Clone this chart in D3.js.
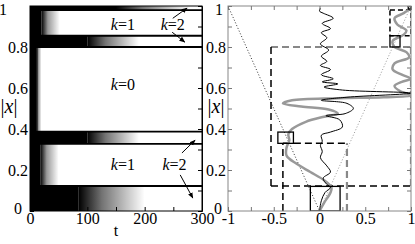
<!DOCTYPE html>
<html>
<head>
<meta charset="utf-8">
<script src="https://cdn.jsdelivr.net/npm/d3@7"></script>
<style>
body { margin: 0; background: #fff; }
svg text { font-family: "Liberation Serif", "Times New Roman", serif !important; font-size: 16px; }
</style>
</head>
<body>
<svg id="chart" width="415" height="244" font-family="Liberation Serif, serif"></svg>
<script>
// left panel: |x| bands over time t
var tTicks = [0, 100, 200, 300];
var yTicks = [0, 0.2, 0.4, 0.6, 0.8, 1];
var bandLo = [0.98, 0.80, 0.327, 0.0];
var bandHi = [1.0, 0.855, 0.387, 0.122];
var bandSolidEnd = [150, 100, 100, 85];
var bandFadeEnd = [280, 190, 190, 200];
var attractorLevels = [0.98, 0.855, 0.80, 0.387, 0.327, 0.122];
// white windows: solid transient edge and where the scatter ends
var winLo = [0.855, 0.387, 0.122];
var winHi = [0.98, 0.80, 0.327];
var winEdge = [20, 12, 18];
var winReach = [52, 20, 50];
var kLabels = [
  {t: 162, y: 0.905, k: "1"}, {t: 249, y: 0.905, k: "2"},
  {t: 162, y: 0.615, k: "0"},
  {t: 162, y: 0.222, k: "1"}, {t: 252, y: 0.222, k: "2"}
];
var arrows = [
  [[249, 0.94], [274, 0.99]], [[248, 0.872], [270, 0.824]],
  [[265, 0.283], [288, 0.346]], [[262, 0.176], [284, 0.063]]
];

// right panel: curves against x
var xTicks = [-1, -0.5, 0, 0.5, 1];
var grayCurve = [[0,0],[0.05,0.04],[0.12,0.09],[0.13,0.115],[0.05,0.15],[-0.1,0.19],[-0.25,0.23],
  [-0.36,0.27],[-0.36,0.31],[-0.33,0.345],[-0.34,0.375],[-0.3,0.4],[-0.15,0.435],[0.05,0.46],
  [0.2,0.475],[0.1,0.495],[-0.2,0.51],[-0.4,0.525],[-0.3,0.54],[0.2,0.55],[0.7,0.555],[1.0,0.565],
  [0.88,0.585],[0.82,0.61],[0.9,0.63],[1.0,0.645],[0.9,0.665],[0.8,0.69],[0.82,0.72],[0.98,0.75],
  [0.95,0.775],[0.82,0.8],[0.8,0.83],[0.92,0.86],[0.95,0.88],[0.85,0.91],[0.82,0.94],[0.92,0.965],[1.0,0.99]];
var blackCurve = [[0.01,0.99],[0.0,0.975],[0.04,0.965],[0.15,0.94],[0.03,0.915],[0.12,0.89],[0.02,0.87],
  [0.08,0.845],[0.01,0.815],[0.1,0.785],[0.02,0.755],[0.08,0.73],[0.01,0.71],[0.12,0.69],[0.02,0.665],
  [0.15,0.645],[0.03,0.63],[0.2,0.62],[0.05,0.605],[0.25,0.59],[1.0,0.575],
  [0.3,0.555],[0.02,0.54],[0.3,0.525],[0.37,0.5],[0.28,0.475],[0.07,0.465],[0.22,0.445],[0.25,0.41],
  [0.12,0.385],[0.02,0.37],[0.03,0.34],[0.01,0.32],[0.03,0.29],[0.01,0.26],[0.08,0.22],[0.12,0.19],
  [0.04,0.16],[0.08,0.13],[0.12,0.115],[0.06,0.09],[0.02,0.05],[0.0,0.0]];
var bigBox = [-0.53, 1.0, 0.122, 0.80];
var midBox = [-0.40, 0.30, 0.0, 0.33];
var solidBoxes = [[-0.455,-0.285,0.33,0.385],[-0.10,0.225,0,0.12],[0.77,0.88,0.80,0.855],[0.97,1.0,0.985,1.0]];
var dashBox = [0.77, 1.0, 0.855, 0.98];

var svg = d3.select("#chart");
svg.append("rect").attr("width", 415).attr("height", 244).attr("fill", "#fff");
var defs = svg.append("defs");

var y = d3.scaleLinear().domain([0, 1]).range([211, 6]);
var xL = d3.scaleLinear().domain([0, 300]).range([30, 202]);
var xR = d3.scaleLinear().domain([-1, 1]).range([228, 411]);
var serif = '"Liberation Serif", "Times New Roman", serif';

function fade(id, x1, x2, mid) {
  var g = defs.append("linearGradient").attr("id", id)
    .attr("gradientUnits", "userSpaceOnUse")
    .attr("x1", x1).attr("x2", x2).attr("y1", 0).attr("y2", 0);
  g.append("stop").attr("offset", 0).attr("stop-color", "#000").attr("stop-opacity", 1);
  g.append("stop").attr("offset", 0.35).attr("stop-color", "#000").attr("stop-opacity", mid);
  g.append("stop").attr("offset", 1).attr("stop-color", "#000").attr("stop-opacity", 0);
}

// ---- left panel ----
var left = svg.append("g");
left.append("rect").attr("x", xL(0)).attr("y", y(1)).attr("width", xL(8) - xL(0))
  .attr("height", y(0) - y(1)).attr("fill", "#000");

winLo.forEach(function(lo, i) {
  left.append("rect").attr("x", xL(0)).attr("y", y(winHi[i]))
    .attr("width", xL(winEdge[i]) - xL(0)).attr("height", y(lo) - y(winHi[i])).attr("fill", "#000");
  fade("w" + i, xL(winEdge[i]), xL(winReach[i]), 0.4);
  left.append("rect").attr("x", xL(winEdge[i])).attr("y", y(winHi[i]))
    .attr("width", xL(winReach[i]) - xL(winEdge[i])).attr("height", y(lo) - y(winHi[i]))
    .attr("fill", "url(#w" + i + ")");
});

bandLo.forEach(function(lo, i) {
  left.append("rect").attr("x", xL(0)).attr("y", y(bandHi[i]))
    .attr("width", xL(bandSolidEnd[i]) - xL(0)).attr("height", y(lo) - y(bandHi[i])).attr("fill", "#000");
  fade("b" + i, xL(bandSolidEnd[i]), xL(bandFadeEnd[i]), 0.55);
  left.append("rect").attr("x", xL(bandSolidEnd[i])).attr("y", y(bandHi[i]))
    .attr("width", xL(bandFadeEnd[i]) - xL(bandSolidEnd[i])).attr("height", y(lo) - y(bandHi[i]))
    .attr("fill", "url(#b" + i + ")");
});

left.selectAll("line.lev").data(attractorLevels).enter().append("line")
  .attr("x1", xL(0)).attr("x2", xL(300))
  .attr("y1", function(d){ return y(d); }).attr("y2", function(d){ return y(d); })
  .attr("stroke", "#000").attr("stroke-width", 1.8);

// labels k=...
var kt = left.selectAll("text.k").data(kLabels).enter().append("text")
  .attr("x", function(d){ return xL(d.t); }).attr("y", function(d){ return y(d.y) + 5; })
  .attr("text-anchor", "middle");
kt.append("tspan").attr("font-style", "italic").text("k");
kt.append("tspan").text(function(d){ return "=" + d.k; });

defs.append("marker").attr("id", "ah").attr("viewBox", "0 0 10 10")
  .attr("refX", 9).attr("refY", 5).attr("markerWidth", 6).attr("markerHeight", 6)
  .attr("orient", "auto").append("path").attr("d", "M0,1L10,5L0,9z").attr("fill", "#000");
left.selectAll("line.arr").data(arrows).enter().append("line")
  .attr("x1", function(d){ return xL(d[0][0]); }).attr("y1", function(d){ return y(d[0][1]); })
  .attr("x2", function(d){ return xL(d[1][0]); }).attr("y2", function(d){ return y(d[1][1]); })
  .attr("stroke", "#000").attr("stroke-width", 1).attr("marker-end", "url(#ah)");

left.append("rect").attr("x", xL(0)).attr("y", y(1)).attr("width", xL(300) - xL(0))
  .attr("height", y(0) - y(1)).attr("fill", "none").attr("stroke", "#000");

var axB = left.append("g").attr("transform", "translate(0," + y(0) + ")")
  .call(d3.axisBottom(xL).tickValues([0,50,100,150,200,250,300]).tickSize(-4).tickPadding(2)
    .tickFormat(function(d){ return tTicks.indexOf(d) >= 0 ? d : ""; }));
var axL = left.append("g").attr("transform", "translate(" + xL(0) + ",0)")
  .call(d3.axisLeft(y).tickValues(d3.range(0, 11).map(function(i){ return i / 10; })).tickSize(-4).tickPadding(2)
    .tickFormat(function(d){ return yTicks.indexOf(d) >= 0 ? d : ""; }));
left.append("g").attr("transform", "translate(" + xL(300) + ",0)")
  .call(d3.axisRight(y).ticks(10).tickSize(-4).tickFormat(""));
[axB, axL].forEach(function(a){
  a.select(".domain").remove();
  a.attr("font-family", serif).attr("font-size", 16);
  a.selectAll("text").attr("fill", "#000");
});
axL.selectAll(".tick text").filter(function(d){ return d === 1; }).attr("x", -23).attr("dy", "0.5em");
axL.selectAll(".tick text").filter(function(d){ return d === 0; }).attr("x", -8).attr("dy", "0.15em");

left.append("text").attr("x", xL(150)).attr("y", 236).attr("text-anchor", "middle").text("t");
var lx = left.append("text").attr("x", 9).attr("y", 113).attr("text-anchor", "middle").style("font-size", "20px");
lx.append("tspan").text("|");
lx.append("tspan").attr("font-style", "italic").text("x");
lx.append("tspan").text("|");

// ---- right panel ----
var right = svg.append("g");
defs.append("clipPath").attr("id", "rc").append("rect")
  .attr("x", xR(-1)).attr("y", y(1)).attr("width", xR(1) - xR(-1)).attr("height", y(0) - y(1));
var plot = right.append("g").attr("clip-path", "url(#rc)");

plot.append("line").attr("x1", xR(-1)).attr("y1", y(1)).attr("x2", xR(0)).attr("y2", y(0))
  .attr("stroke", "#333").attr("stroke-dasharray", "1,2");
plot.append("line").attr("x1", xR(1)).attr("y1", y(1)).attr("x2", xR(0)).attr("y2", y(0))
  .attr("stroke", "#999").attr("stroke-dasharray", "1,2");

function seg(x1, y1, x2, y2, color, w, dash) {
  plot.append("line").attr("x1", xR(x1)).attr("y1", y(y1)).attr("x2", xR(x2)).attr("y2", y(y2))
    .attr("stroke", color).attr("stroke-width", w).attr("stroke-dasharray", dash);
}
var gDash = "7,4", kDash = "7,4";
// big box: gray top/right, black left/bottom
seg(bigBox[0], bigBox[3], bigBox[1], bigBox[3], "#888", 2.2, gDash);
seg(bigBox[1], bigBox[2], bigBox[1], bigBox[3], "#888", 2.2, gDash);
seg(bigBox[0], bigBox[2], bigBox[0], bigBox[3], "#000", 1.5, kDash);
seg(bigBox[0], bigBox[2], bigBox[1], bigBox[2], "#000", 1.5, kDash);
// mid box
seg(midBox[0], midBox[3], midBox[1], midBox[3], "#000", 1.5, kDash);
seg(midBox[0], midBox[2], midBox[0], midBox[3], "#000", 1.5, kDash);
seg(midBox[1], midBox[2], midBox[1], midBox[3], "#888", 2.2, gDash);
// dashed box upper right
plot.append("rect").attr("x", xR(dashBox[0])).attr("y", y(dashBox[3]))
  .attr("width", xR(dashBox[1]) - xR(dashBox[0])).attr("height", y(dashBox[2]) - y(dashBox[3]))
  .attr("fill", "none").attr("stroke", "#000").attr("stroke-width", 1.5).attr("stroke-dasharray", "5,3");

var line = d3.line().x(function(d){ return xR(d[0]); }).y(function(d){ return y(d[1]); })
  .curve(d3.curveCatmullRom.alpha(0.5));
plot.append("path").datum(grayCurve).attr("d", line).attr("fill", "none")
  .attr("stroke", "#999").attr("stroke-width", 2.5);
plot.append("path").datum(blackCurve).attr("d", line).attr("fill", "none")
  .attr("stroke", "#000").attr("stroke-width", 1);

plot.selectAll("rect.sb").data(solidBoxes).enter().append("rect")
  .attr("x", function(d){ return xR(d[0]); }).attr("y", function(d){ return y(d[3]); })
  .attr("width", function(d){ return xR(d[1]) - xR(d[0]); })
  .attr("height", function(d){ return y(d[2]) - y(d[3]); })
  .attr("fill", "none").attr("stroke", "#000").attr("stroke-width", 1.3);

right.append("rect").attr("x", xR(-1)).attr("y", y(1)).attr("width", xR(1) - xR(-1))
  .attr("height", y(0) - y(1)).attr("fill", "none").attr("stroke", "#888");

var rB = right.append("g").attr("transform", "translate(0," + y(0) + ")")
  .call(d3.axisBottom(xR).tickValues(d3.range(-4, 5).map(function(i){ return i / 4; })).tickSize(-4).tickPadding(2)
    .tickFormat(function(d){ return xTicks.indexOf(d) >= 0 ? d : ""; }));
right.append("g").attr("transform", "translate(0," + y(1) + ")")
  .call(d3.axisTop(xR).tickValues(d3.range(-4, 5).map(function(i){ return i / 4; })).tickSize(-4).tickFormat(""));
var rL = right.append("g").attr("transform", "translate(" + xR(-1) + ",0)")
  .call(d3.axisLeft(y).tickValues(d3.range(0, 11).map(function(i){ return i / 10; })).tickSize(-4).tickPadding(2)
    .tickFormat(function(d){ return yTicks.indexOf(d) >= 0 ? d : ""; }));
right.append("g").attr("transform", "translate(" + xR(1) + ",0)")
  .call(d3.axisRight(y).ticks(10).tickSize(-4).tickFormat(""));
right.selectAll(".domain").remove();
right.selectAll(".tick line").attr("stroke", "#777");
[rB, rL].forEach(function(a){
  a.attr("font-family", serif).attr("font-size", 16);
  a.selectAll("text").attr("fill", "#000");
});
rB.selectAll(".tick text").text(function(d){ return xTicks.indexOf(d) >= 0 ? String(d) : ""; });
rL.selectAll(".tick text").filter(function(d){ return d === 1; }).attr("x", -5).attr("dy", "0.5em");
rL.selectAll(".tick text").filter(function(d){ return d === 0; }).attr("x", -6).attr("dy", "0.15em");

var rx = right.append("text").attr("x", 216).attr("y", 113).attr("text-anchor", "middle").style("font-size", "20px");
rx.append("tspan").text("|");
rx.append("tspan").attr("font-style", "italic").text("x");
rx.append("tspan").text("|");
</script>
</body>
</html>
